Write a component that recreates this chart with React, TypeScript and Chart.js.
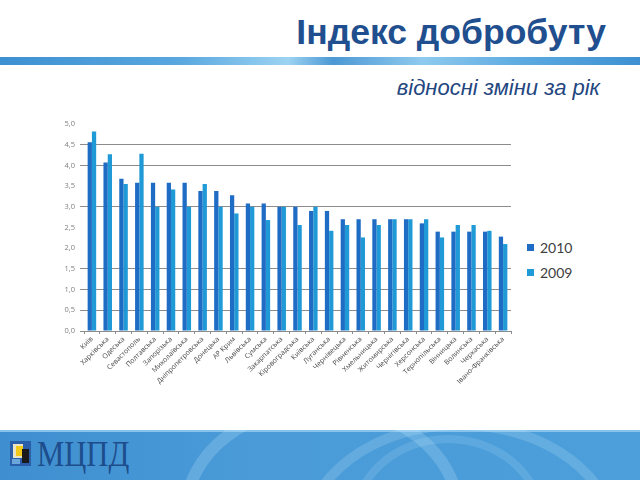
import React, { useEffect, useRef } from "react";
import { Chart, registerables } from "chart.js";

Chart.register(...registerables);

const categories = [
  "Київ", "Харківська", "Одеська", "Севастополь", "Полтавська", "Запорізька",
  "Миколаївська", "Дніпропетровська", "Донецька", "АР Крим", "Львівська", "Сумська",
  "Закарпатська", "Кіровоградська", "Київська", "Луганська", "Чернівецька", "Рівненська",
  "Хмельницька", "Житомирська", "Чернігівська", "Херсонська", "Тернопільська", "Вінницька",
  "Волинська", "Черкаська", "Івано-Франківська",
];
const values2010 = [4.56, 4.07, 3.68, 3.58, 3.58, 3.58, 3.58, 3.38, 3.38, 3.28, 3.08, 3.08, 3.0, 3.0, 2.9, 2.9, 2.7, 2.7, 2.7, 2.7, 2.7, 2.6, 2.4, 2.4, 2.4, 2.4, 2.28];
const values2009 = [4.82, 4.27, 3.55, 4.28, 3.0, 3.42, 3.0, 3.55, 3.0, 2.84, 3.0, 2.68, 3.0, 2.56, 3.0, 2.42, 2.56, 2.26, 2.56, 2.7, 2.7, 2.7, 2.26, 2.56, 2.56, 2.42, 2.1];
const seriesLabels = ["2010", "2009"];
const seriesColors = ["#1f6cc4", "#1f9ad6"];
const yTicksHidden = [2.0, 2.5, 3.5, 5.0];

export default function App() {
  const ref = useRef<HTMLCanvasElement | null>(null);

  useEffect(() => {
    if (!ref.current) return;
    const chart = new Chart(ref.current, {
      type: "bar",
      data: {
        labels: categories,
        datasets: [
          { label: seriesLabels[0], data: values2010, backgroundColor: seriesColors[0], borderWidth: 0 },
          { label: seriesLabels[1], data: values2009, backgroundColor: seriesColors[1], borderWidth: 0 },
        ],
      },
      options: {
        responsive: false,
        animation: false,
        layout: { padding: { top: 24, right: 9, left: 0, bottom: 0 } },
        plugins: { legend: { display: false }, tooltip: { enabled: false } },
        datasets: { bar: { categoryPercentage: 0.54, barPercentage: 1.0 } },
        scales: {
          x: {
            afterFit: (s: any) => { s.height = 89; },
            grid: { drawOnChartArea: false, drawTicks: true, tickLength: 3, color: "#8c8c8c", offset: true },
            border: { display: true, color: "#8c8c8c" },
            ticks: {
              autoSkip: false,
              maxRotation: 45,
              minRotation: 45,
              padding: 1,
              color: "#4a4a4a",
              font: { family: "'Open Sans', 'Noto Sans', sans-serif", size: 7 },
            },
          },
          y: {
            min: 0,
            max: 5,
            afterFit: (s: any) => { s.width = 84; },
            border: { display: false },
            grid: {
              tickLength: 4,
              color: (c: any) => (c.tick && yTicksHidden.some((v) => Math.abs(v - c.tick.value) < 1e-6) ? "rgba(0,0,0,0)" : "#8c8c8c"),
            },
            ticks: {
              stepSize: 0.5,
              padding: 5,
              color: "#7f7f7f",
              font: { family: "'Open Sans', 'Noto Sans', sans-serif", size: 7.5 },
              callback: (v: any) => Number(v).toFixed(1).replace(".", ","),
            },
          },
        },
      },
    });
    return () => chart.destroy();
  }, []);

  return (
    <div style={{ position: "fixed", left: 0, top: 0, width: 640, height: 480, background: "#ffffff", overflow: "hidden", fontFamily: "'Liberation Sans', Arial, sans-serif" }}>
      <div style={{ position: "absolute", right: 34, top: 9, fontSize: 35.5, fontWeight: 700, color: "#1f4f8e", lineHeight: "46px", whiteSpace: "nowrap" }}>
        Індекс добробуту
      </div>
      <div style={{ position: "absolute", left: 0, top: 57, width: 640, height: 8, background: "linear-gradient(90deg, #3d90d1 0%, #58a7df 28%, #9cd3f2 45%, #4b98d4 52%, #8fcaee 66%, #5aa9e0 82%, #3d90d1 100%)" }} />
      <div style={{ position: "absolute", right: 40, top: 74, fontSize: 22, fontStyle: "italic", color: "#23467f", lineHeight: "28px", whiteSpace: "nowrap" }}>
        відносні зміни за рік
      </div>
      <canvas ref={ref} width={520} height={320} style={{ position: "absolute", left: 0, top: 100, width: 520, height: 320 }} />
      <div style={{ position: "absolute", left: 527, top: 235, fontFamily: "Lato, 'Open Sans', sans-serif", fontSize: 14, color: "#404040" }}>
        {seriesLabels.map((l, i) => (
          <div key={l} style={{ display: "flex", alignItems: "center", height: 25 }}>
            <span style={{ display: "inline-block", width: 7, height: 7, background: seriesColors[i], marginRight: 6 }} />
            <span>{l}</span>
          </div>
        ))}
      </div>
      <div style={{ position: "absolute", left: 0, top: 430, width: 640, height: 50, overflow: "hidden", background: "linear-gradient(90deg, #3f8fd0 0%, #4a9bd8 40%, #4c9fda 100%)" }}>
        <div style={{ position: "absolute", left: 0, top: 0, width: 640, height: 2, background: "#86c2ec" }} />
        <div style={{ position: "absolute", left: 180, top: -30, width: 260, height: 200, borderRadius: "50%", border: "12px solid rgba(200,235,255,0.22)" }} />
        <div style={{ position: "absolute", left: 300, top: -10, width: 300, height: 220, borderRadius: "50%", border: "10px solid rgba(200,235,255,0.2)" }} />
        <div style={{ position: "absolute", left: 350, top: 5, width: 180, height: 160, borderRadius: "50%", border: "8px solid rgba(200,235,255,0.15)" }} />
        <div style={{ position: "absolute", left: 10, top: 11, width: 21, height: 25, background: "#2a5ea8" }}>
          <div style={{ position: "absolute", left: 3, top: 3, width: 10, height: 14, background: "#e9e4c8" }} />
          <div style={{ position: "absolute", left: 6, top: 5, width: 7, height: 10, background: "#f2c81a" }} />
          <div style={{ position: "absolute", left: 12, top: 8, width: 7, height: 14, background: "#1a1a1a" }} />
          <div style={{ position: "absolute", left: 2, top: 18, width: 8, height: 5, background: "#6aa6dc" }} />
        </div>
        <div style={{ position: "absolute", left: 37, top: 3, fontFamily: "'Liberation Serif', 'Times New Roman', serif", fontSize: 36, color: "#1d4d8c", lineHeight: "42px", transform: "scaleX(0.85)", transformOrigin: "left center", whiteSpace: "nowrap" }}>
          МЦПД
        </div>
      </div>
    </div>
  );
}
